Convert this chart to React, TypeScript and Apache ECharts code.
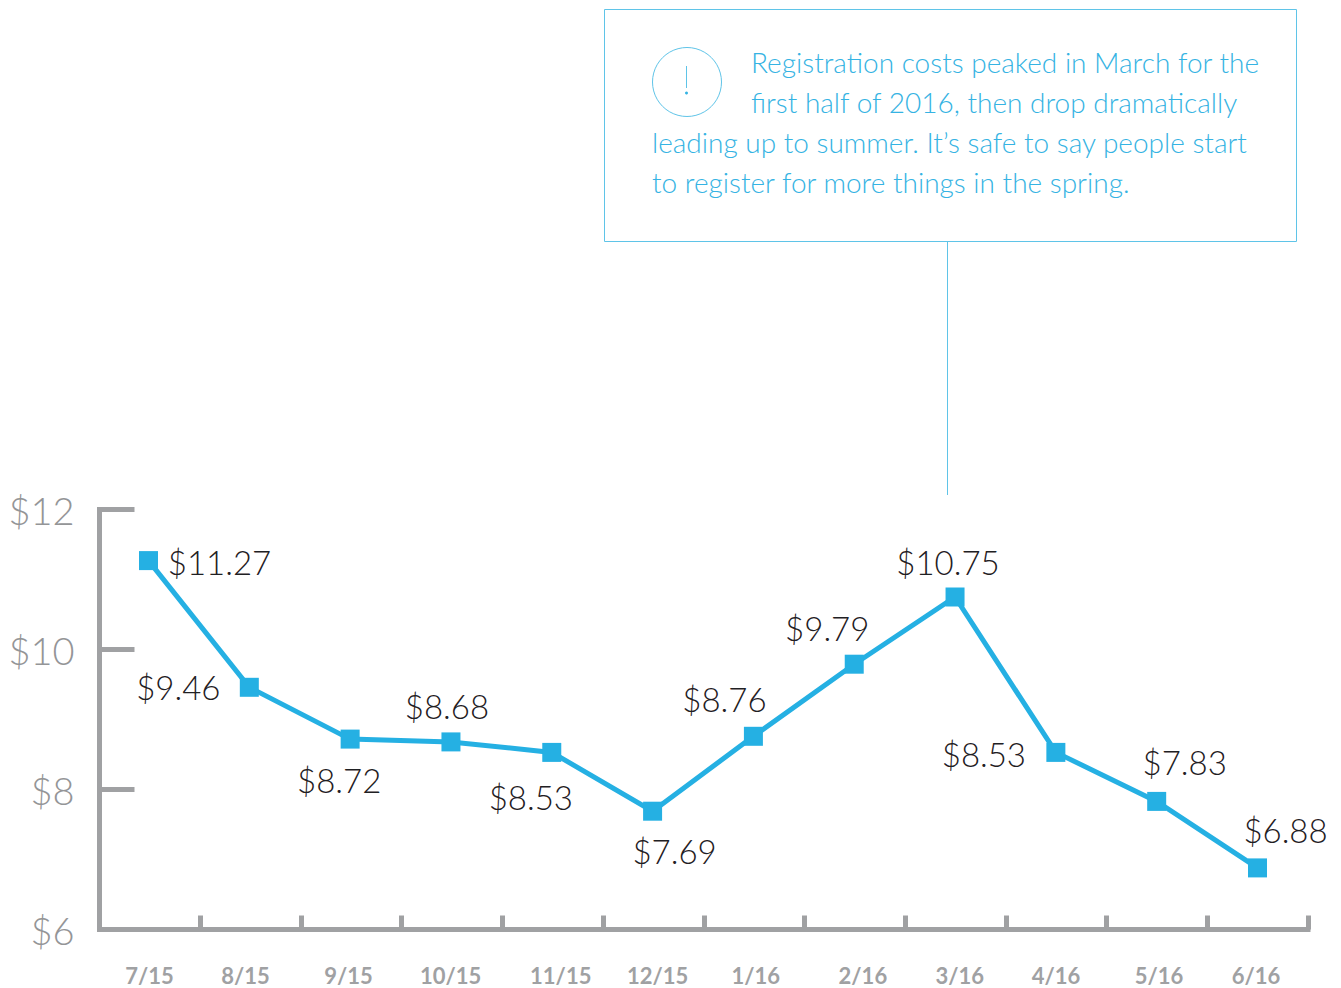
import React, { useEffect, useRef } from "react";
import * as echarts from "echarts";

const months = ["7/15", "8/15", "9/15", "10/15", "11/15", "12/15", "1/16", "2/16", "3/16", "4/16", "5/16", "6/16"];
const costs = [11.27, 9.46, 8.72, 8.68, 8.53, 7.69, 8.76, 9.79, 10.75, 8.53, 7.83, 6.88];
const monthLabelAt = [0.497, 1.45, 2.473, 3.487, 4.58, 5.543, 6.516, 7.58, 8.543, 9.497, 10.52, 11.483];
const labelShift = [
  [71, 1], [-71, 0], [-11, 41], [-4, -36], [-21, 45], [22, 40],
  [-29, -37], [-27, -36], [-7, -35], [-72, 2], [28, -39], [28, -38],
];
const noteLines = [
  "Registration costs peaked in March for the",
  "first half of 2016, then drop dramatically",
  "leading up to summer. It\u2019s safe to say people start",
  "to register for more things in the spring.",
];
const noteLineLeft = [751, 751, 652, 652];
const noteLineMiddle = [62, 102, 142, 182];

const GREY = "#a0a1a3";
const BLUE = "#25b0e3";
const NOTE = "#35b3e3";
const NOTE_EDGE = "#5fc4e8";
const FONT = "Lato";

export default function App() {
  const ref = useRef<HTMLDivElement>(null);
  useEffect(() => {
    const chart = echarts.init(ref.current!, null, { renderer: "svg" });
    chart.setOption({
      animation: false,
      grid: [
        { left: 99.5, top: 509.5, width: 1208.5, height: 420 },
        { left: 148.5, top: 509.5, width: 1109, height: 420 },
      ],
      xAxis: [
        {
          type: "value", gridIndex: 0, min: 0, max: 12, interval: 1,
          splitLine: { show: false },
          axisLine: { show: true, lineStyle: { color: GREY, width: 5, cap: "square" } },
          axisTick: { show: true, inside: true, length: 14, lineStyle: { color: GREY, width: 5 } },
          axisLabel: {
            customValues: monthLabelAt,
            formatter: (v: number) => months[monthLabelAt.indexOf(v)] ?? "",
            color: GREY, fontFamily: FONT, fontWeight: 700, fontSize: 22, margin: 35,
            showMinLabel: true, showMaxLabel: true, hideOverlap: false,
          },
        },
        {
          type: "category", gridIndex: 1, data: months, boundaryGap: false, show: false,
        },
      ],
      yAxis: [
        {
          type: "value", gridIndex: 0, min: 6, max: 12, interval: 2,
          splitLine: { show: false },
          axisLine: { show: true, lineStyle: { color: GREY, width: 5, cap: "square" } },
          axisTick: { show: true, inside: true, length: 35, lineStyle: { color: GREY, width: 5 } },
          axisLabel: {
            formatter: (v: number) => `$${v}`,
            color: "#949597", fontFamily: FONT, fontWeight: 300, fontSize: 38, margin: 25, padding: [0, 0, 3, 0],
          },
        },
        { type: "value", gridIndex: 1, min: 6, max: 12, interval: 2, show: false },
      ],
      series: [
        {
          type: "line", xAxisIndex: 1, yAxisIndex: 1,
          data: costs.map((value, i) => ({
            value,
            label: { offset: labelShift[i] },
          })),
          symbol: "rect", symbolSize: 19, showSymbol: true,
          lineStyle: { color: BLUE, width: 5, cap: "butt", join: "miter" },
          itemStyle: { color: BLUE },
          label: {
            show: true, position: "inside", align: "center", verticalAlign: "middle",
            color: "#1f2023", fontFamily: FONT, fontWeight: 300, fontSize: 33,
            formatter: (p: any) => `$${p.value.toFixed(2)}`,
          },
        },
      ],
      graphic: [
        { type: "rect", shape: { x: 604.5, y: 9.5, width: 692, height: 232 }, style: { fill: "none", stroke: NOTE_EDGE, lineWidth: 1 } },
        { type: "rect", shape: { x: 947, y: 242, width: 1, height: 253 }, style: { fill: NOTE_EDGE } },
        { type: "circle", shape: { cx: 687, cy: 82, r: 34.5 }, style: { fill: "none", stroke: NOTE_EDGE, lineWidth: 1 } },
        { type: "rect", shape: { x: 686, y: 66, width: 1, height: 22 }, style: { fill: NOTE_EDGE } },
        { type: "circle", shape: { cx: 686.5, cy: 93, r: 1.5 }, style: { fill: NOTE } },
        ...noteLines.map((text, i) => ({
          type: "text", x: noteLineLeft[i], y: noteLineMiddle[i],
          style: { text, fill: NOTE, font: `300 28px ${FONT}`, textAlign: "left", textVerticalAlign: "middle" },
        })),
      ],
    });
    return () => chart.dispose();
  }, []);
  return <div ref={ref} style={{ position: "fixed", left: 0, top: 0, width: 1341, height: 988, background: "#fff" }} />;
}
